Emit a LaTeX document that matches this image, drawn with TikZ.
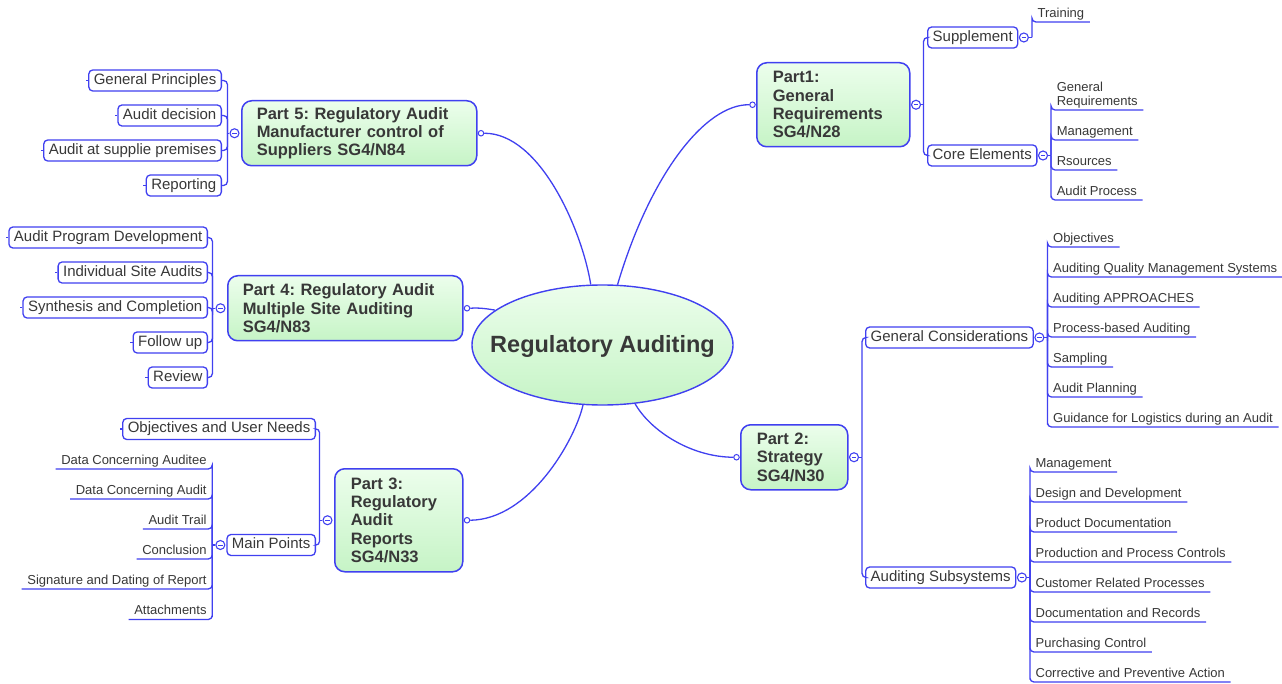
\documentclass[tikz,border=0pt]{standalone}
\usepackage{fontspec}
\setmainfont{Liberation Sans}
\frenchspacing
\usetikzlibrary{shapes.geometric}
\definecolor{lnblue}{RGB}{64,64,240}
\definecolor{txt}{RGB}{56,56,56}
\definecolor{gtop}{RGB}{236,254,236}
\definecolor{gbot}{RGB}{198,244,198}
\tikzset{
 conn/.style={draw=lnblue, line width=1.3pt},
 mainbox/.style={draw=lnblue, line width=1.5pt, rounded corners=10pt, top color=gtop, bottom color=gbot, align=left, anchor=north west, text=txt, font=\fontsize{16.5}{18.4}\selectfont\bfseries, inner ysep=0pt},
 subbox/.style={draw=lnblue, line width=1.3pt, rounded corners=4pt, fill=white, text=txt, font=\fontsize{15}{18}\selectfont, inner xsep=5pt, inner ysep=0pt, minimum height=21pt, text height=11pt, text depth=3.5pt},
 leafbase/.style={text=txt, font=\fontsize{13}{14}\selectfont, inner xsep=5.5pt, inner ysep=2pt},
 leaf/.style={leafbase, text height=10pt, text depth=2.5pt},
 ccirc/.style={circle, draw=lnblue, line width=1.1pt, fill=white, minimum size=9pt, inner sep=0pt, path picture={\draw[lnblue, line width=0.9pt] ([xshift=-2.2pt]path picture bounding box.center) -- ([xshift=2.2pt]path picture bounding box.center);}},
 linkdot/.style={circle, draw=lnblue, line width=1pt, fill=white, minimum size=5.5pt, inner sep=0pt},
 elb/.style={conn, rounded corners=4pt},
}
\begin{document}
\begin{tikzpicture}[x=1pt,y=-1pt]
\fill[white] (0,0) rectangle (1282,684);
\useasboundingbox (0,0) rectangle (1282,684);

% central
\node[ellipse, draw=lnblue, line width=1.4pt, top color=gtop, bottom color=gbot, minimum width=261pt, minimum height=120pt, inner sep=0pt, text=txt, font=\fontsize{23.5}{26}\selectfont\bfseries] (root) at (602.5,345) {\raisebox{-8pt}[0pt][0pt]{\makebox[0pt]{Regulatory Auditing}}};

% main topics
\node[mainbox, minimum width=235pt, minimum height=65pt, text width=205pt, inner xsep=15pt] (p5) at (241,100) {Part 5: Regulatory Audit\\Manufacturer control of\\Suppliers SG4/N84};
\node[mainbox, minimum width=153pt, minimum height=84pt, text width=121pt, inner xsep=16pt] (p1) at (756,62) {Part1:\\General\\Requirements\\SG4/N28};
\node[mainbox, minimum width=235pt, minimum height=65pt, text width=205pt, inner xsep=15pt] (p4) at (227,275) {Part 4: Regulatory Audit\\Multiple Site Auditing\\SG4/N83};
\node[mainbox, minimum width=128pt, minimum height=103pt, text width=96pt, inner xsep=16pt] (p3) at (334,468) {Part 3:\\Regulatory\\Audit\\Reports\\SG4/N33};
\node[mainbox, minimum width=107pt, minimum height=65pt, text width=75pt, inner xsep=16pt] (p2) at (740,424) {Part 2:\\Strategy\\SG4/N30};

% link dots
\node[linkdot] (d5) at ([xshift=3.5pt]p5.east) {};
\node[linkdot] (d1) at ([xshift=-3.5pt]p1.west) {};
\node[linkdot] (d4) at ([xshift=3.5pt]p4.east) {};
\node[linkdot] (d3) at ([xshift=3.5pt]p3.east) {};
\node[linkdot] (d2) at ([xshift=-3.5pt]p2.west) {};

\draw[conn] (d5.east) .. controls (540,133) and (582,230) .. (root.101);
\draw[conn] (d1.west) .. controls (705,104) and (650,175) .. (root.76);
\draw[conn] (d4.east) .. controls (480,307.5) and (488,309) .. (root.162);
\draw[conn] (d3.east) .. controls (530,519.5) and (575,440) .. (root.252);
\draw[conn] (d2.west) .. controls (690,457) and (650,430) .. (root.299);

% collapse circles of main topics
\node[ccirc] (c5) at ([xshift=-6.5pt]p5.west) {};
\node[ccirc] (c1) at ([xshift=5.5pt]p1.east) {};
\node[ccirc] (c4) at ([xshift=-6.5pt]p4.west) {};
\node[ccirc] (c3) at ([xshift=-6.5pt]p3.west) {};
\node[ccirc] (c2) at ([xshift=5.5pt]p2.east) {};
\coordinate (j5) at ([xshift=-2pt]c5.west);
\coordinate (j1) at ([xshift=2.5pt]c1.east);
\coordinate (j4) at ([xshift=-3pt]c4.west);
\coordinate (j3) at ([xshift=-3pt]c3.west);
\coordinate (j2) at ([xshift=3pt]c2.east);
\draw[conn] (c5.west) -- (j5);
\draw[conn] (c1.east) -- (j1);
\draw[conn] (c4.west) -- (j4);
\draw[conn] (c3.west) -- (j3);
\draw[conn] (c2.east) -- (j2);

% Part 5 children
\node[subbox, anchor=east] (p5a) at (222,80.5) {General Principles};
\node[subbox, anchor=east] (p5b) at (222,115.5) {Audit decision};
\node[subbox, anchor=east] (p5c) at (222,150.5) {Audit at supplie premises};
\node[subbox, anchor=east] (p5d) at (222,185.5) {Reporting};
\foreach \n in {p5a,p5b,p5c,p5d}{
  \draw[elb] (j5) |- (\n.east);
  \draw[conn] (\n.west) -- ++(-2.5,0);
}

% Part 4 children
\node[subbox, anchor=east] (p4a) at (208,237.5) {Audit Program Development};
\node[subbox, anchor=east] (p4b) at (208,272.5) {Individual Site Audits};
\node[subbox, anchor=east] (p4c) at (208,307.5) {Synthesis and Completion};
\node[subbox, anchor=east] (p4d) at (208,342.5) {Follow up};
\node[subbox, anchor=east] (p4e) at (208,377.5) {Review};
\foreach \n in {p4a,p4b,p4c,p4d,p4e}{
  \draw[elb] (j4) |- (\n.east);
  \draw[conn] (\n.west) -- ++(-2.5,0);
}

% Part 3 children
\node[subbox, anchor=east] (p3a) at (316,429) {Objectives and User Needs};
\node[subbox, anchor=east] (mp) at (316,545) {Main Points};
\foreach \n in {p3a,mp}{
  \draw[conn, rounded corners=3.5pt] (j3) |- (\n.east);
}
\draw[conn] (p3a.west) -- ++(-2.5,0);
\node[ccirc] (cmp) at ([xshift=-6pt]mp.west) {};
\coordinate (jmp) at ([xshift=-3pt]cmp.west);
\draw[conn] (cmp.west) -- (jmp);
\node[leaf, anchor=south east] (mp1) at (jmp |- 0,469) {Data Concerning Auditee};
\node[leaf, anchor=south east] (mp2) at (jmp |- 0,499) {Data Concerning Audit};
\node[leaf, anchor=south east] (mp3) at (jmp |- 0,529) {Audit Trail};
\node[leaf, anchor=south east] (mp4) at (jmp |- 0,559) {Conclusion};
\node[leaf, anchor=south east] (mp5) at (jmp |- 0,589) {Signature and Dating of Report};
\node[leaf, anchor=south east] (mp6) at (jmp |- 0,619.5) {Attachments};
\foreach \n in {mp1,mp2,mp3,mp4,mp5,mp6}{
  \draw[elb] (jmp) |- (\n.south east) -- (\n.south west);
}

% Part 1 children
\node[subbox, anchor=west] (sup) at (927,37.5) {Supplement};
\node[subbox, anchor=west] (ce) at (927,155.5) {Core Elements};
\foreach \n in {sup,ce}{
  \draw[elb] (j1) |- (\n.west);
}
\node[ccirc] (csup) at ([xshift=5.5pt]sup.east) {};
\coordinate (jsup) at ([xshift=3pt]csup.east);
\draw[conn] (csup.east) -- (jsup);
\node[leaf, anchor=south west] (tr) at (jsup |- 0,22) {Training};
\draw[elb] (jsup) |- (tr.south west) -- (tr.south east);

\node[ccirc] (cce) at ([xshift=5.5pt]ce.east) {};
\coordinate (jce) at ([xshift=3pt]cce.east);
\draw[conn] (cce.east) -- (jce);
\node[leafbase, align=left, anchor=south west] (ce1) at (jce |- 0,110) {General\\Requirements};
\node[leaf, anchor=south west] (ce2) at (jce |- 0,140) {Management};
\node[leaf, anchor=south west] (ce3) at (jce |- 0,170) {Rsources};
\node[leaf, anchor=south west] (ce4) at (jce |- 0,200) {Audit Process};
\foreach \n in {ce1,ce2,ce3,ce4}{
  \draw[elb] (jce) |- (\n.south west) -- (\n.south east);
}

% Part 2 children
\node[subbox, anchor=west] (gc) at (865,337.5) {General Considerations};
\node[subbox, anchor=west] (as) at (865,577.5) {Auditing Subsystems};
\foreach \n in {gc,as}{
  \draw[elb] (j2) |- (\n.west);
}
\node[ccirc] (cgc) at ([xshift=5.5pt]gc.east) {};
\coordinate (jgc) at ([xshift=3pt]cgc.east);
\draw[conn] (cgc.east) -- (jgc);
\node[leaf, anchor=south west] (gc1) at (jgc |- 0,247) {Objectives};
\node[leaf, anchor=south west] (gc2) at (jgc |- 0,277) {Auditing Quality Management Systems};
\node[leaf, anchor=south west] (gc3) at (jgc |- 0,307) {Auditing APPROACHES};
\node[leaf, anchor=south west] (gc4) at (jgc |- 0,337) {Process-based Auditing};
\node[leaf, anchor=south west] (gc5) at (jgc |- 0,367) {Sampling};
\node[leaf, anchor=south west] (gc6) at (jgc |- 0,397) {Audit Planning};
\node[leaf, anchor=south west] (gc7) at (jgc |- 0,427) {Guidance for Logistics during an Audit};
\foreach \n in {gc1,gc2,gc3,gc4,gc5,gc6,gc7}{
  \draw[elb] (jgc) |- (\n.south west) -- (\n.south east);
}

\node[ccirc] (cas) at ([xshift=5.5pt]as.east) {};
\coordinate (jas) at ([xshift=3pt]cas.east);
\draw[conn] (cas.east) -- (jas);
\node[leaf, anchor=south west] (as1) at (jas |- 0,472) {Management};
\node[leaf, anchor=south west] (as2) at (jas |- 0,502) {Design and Development};
\node[leaf, anchor=south west] (as3) at (jas |- 0,532) {Product Documentation};
\node[leaf, anchor=south west] (as4) at (jas |- 0,562) {Production and Process Controls};
\node[leaf, anchor=south west] (as5) at (jas |- 0,592) {Customer Related Processes};
\node[leaf, anchor=south west] (as6) at (jas |- 0,622) {Documentation and Records};
\node[leaf, anchor=south west] (as7) at (jas |- 0,652) {Purchasing Control};
\node[leaf, anchor=south west] (as8) at (jas |- 0,682) {Corrective and Preventive Action};
\foreach \n in {as1,as2,as3,as4,as5,as6,as7,as8}{
  \draw[elb] (jas) |- (\n.south west) -- (\n.south east);
}
\end{tikzpicture}
\end{document}
